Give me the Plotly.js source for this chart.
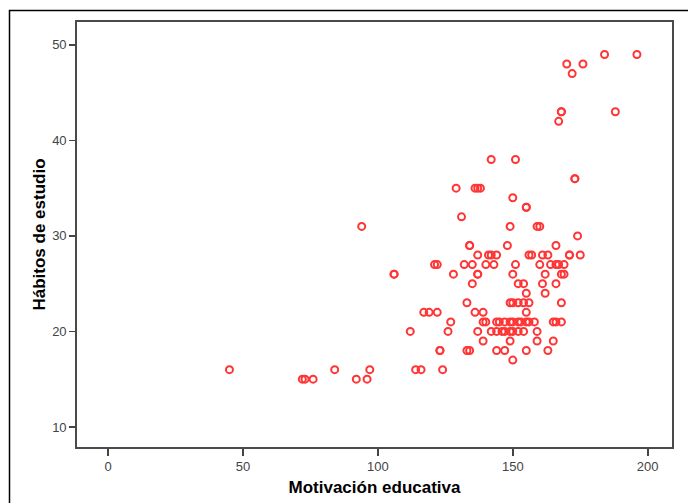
<!DOCTYPE html>
<html>
<head>
<meta charset="utf-8">
<script src="https://cdn.plot.ly/plotly-3.0.1.min.js"></script>
<style>
  html, body { margin: 0; padding: 0; background: #fff; }
  #chart { width: 688px; height: 503px; }
</style>
</head>
<body>
<div id="chart"></div>
<script>
// Motivación educativa (x) vs Hábitos de estudio (y)
const motivacion = [
  45, 72, 73, 76, 84, 92, 96, 97, 94, 106, 106, 112, 114, 116,
  117, 119, 122, 121, 122, 123, 123, 124, 126, 127, 128, 129, 131, 132,
  133, 133, 134, 134, 134, 135, 135, 136, 137, 138, 136, 137, 137, 137,
  137, 139, 139, 140, 139, 140, 141, 142, 142, 142, 143, 144, 144, 144,
  144, 145, 147, 149, 150, 152, 153, 155, 156, 158, 146, 147, 147, 148,
  149, 150, 152, 154, 156, 149, 149, 150, 152, 154, 149, 150, 150, 150,
  151, 151, 152, 154, 155, 155, 155, 155, 155, 156, 157, 159, 160, 159,
  159, 160, 161, 163, 161, 162, 162, 163, 164, 166, 167, 165, 166, 168,
  165, 166, 166, 167, 168, 168, 168, 169, 168, 169, 170, 171, 171, 172,
  173, 173, 174, 175, 176, 184, 188, 196
];
const habitos = [
  16, 15, 15, 15, 16, 15, 15, 16, 31, 26, 26, 20, 16, 16,
  22, 22, 22, 27, 27, 18, 18, 16, 20, 21, 26, 35, 32, 27,
  23, 18, 18, 29, 29, 25, 27, 35, 35, 35, 22, 28, 26, 26,
  20, 22, 21, 21, 19, 27, 28, 28, 38, 20, 27, 28, 21, 20,
  18, 21, 21, 21, 21, 21, 21, 21, 21, 21, 20, 20, 18, 29,
  23, 23, 23, 23, 23, 31, 20, 20, 20, 20, 19, 34, 26, 17,
  38, 27, 25, 25, 33, 33, 24, 22, 18, 28, 28, 31, 31, 20,
  19, 27, 28, 28, 25, 26, 24, 18, 27, 27, 27, 21, 21, 21,
  19, 29, 25, 42, 43, 43, 26, 26, 23, 27, 48, 28, 28, 47,
  36, 36, 30, 28, 48, 49, 43, 49
];

const xTicks = [0, 50, 100, 150, 200];
const yTicks = [10, 20, 30, 40, 50];

const trace = {
  type: 'scatter',
  mode: 'markers',
  x: motivacion,
  y: habitos,
  marker: {
    symbol: 'circle-open',
    size: 7,
    color: '#ff3535',
    line: { width: 2, color: '#ff3535' }
  },
  hoverinfo: 'x+y'
};

const L = 77, R = 16, T = 22, B = 56, W = 688, H = 503;
const pw = W - L - R, ph = H - T - B;
const px = v => (v - L) / pw;
const py = v => (H - B - v) / ph;

const FONT = 'Liberation Sans, Arial, sans-serif';

const layout = {
  width: W,
  height: H,
  margin: { l: L, r: R, t: T, b: B, pad: 0 },
  paper_bgcolor: '#ffffff',
  plot_bgcolor: '#ffffff',
  showlegend: false,
  font: { family: FONT, size: 13, color: '#444' },
  xaxis: {
    range: [-11.5, 209],
    tickvals: xTicks,
    ticktext: xTicks.map(String),
    ticks: 'outside',
    ticklen: 7,
    tickwidth: 1.6,
    tickcolor: '#444',
    showline: true,
    mirror: true,
    linecolor: '#4a4a4a',
    linewidth: 1.8,
    showgrid: false,
    zeroline: false,
    tickfont: { family: FONT, size: 13, color: '#444' },
    title: {
      text: 'Motivación educativa',
      font: { family: FONT, size: 17, color: '#000', weight: 'bold' },
      standoff: 8
    }
  },
  yaxis: {
    range: [7.9, 52.4],
    tickvals: yTicks,
    ticktext: yTicks.map(String),
    ticks: 'outside',
    ticklen: 6,
    tickwidth: 1.6,
    tickcolor: '#444',
    showline: true,
    mirror: true,
    linecolor: '#4a4a4a',
    linewidth: 1.8,
    showgrid: false,
    zeroline: false,
    tickfont: { family: FONT, size: 13, color: '#444' },
    title: {
      text: 'Hábitos de estudio',
      font: { family: FONT, size: 17, color: '#000', weight: 'bold' },
      standoff: 2
    }
  },
  shapes: [
    {
      type: 'path',
      xref: 'paper', yref: 'paper',
      path: 'M ' + px(9.5) + ' ' + py(510) + ' L ' + px(9.5) + ' ' + py(10.5) + ' L ' + px(700) + ' ' + py(10.5),
      line: { color: '#000', width: 1.5 }
    }
  ]
};

Plotly.newPlot('chart', [trace], layout, { displayModeBar: false, staticPlot: true });
</script>
</body>
</html>
